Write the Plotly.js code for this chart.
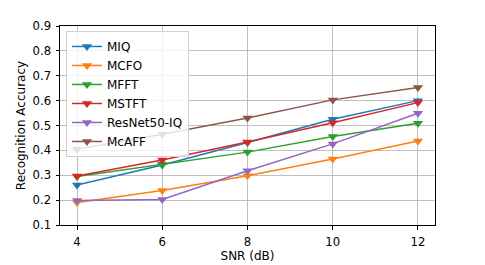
<!DOCTYPE html>
<html><head><meta charset="utf-8">
<script src="https://cdn.plot.ly/plotly-3.0.1.min.js"></script>
<style>html,body{margin:0;padding:0;background:#fff}#c{width:485px;height:265px}</style>
</head><body><div id="c"></div>
<script>
const snr = [4, 6, 8, 10, 12];
const seriesNames = ["MIQ", "MCFO", "MFFT", "MSTFT", "ResNet50-IQ", "McAFF"];
const miq = [0.261, 0.341, 0.432, 0.525, 0.600];
const mcfo = [0.190, 0.239, 0.298, 0.365, 0.438];
const mfft = [0.295, 0.344, 0.393, 0.456, 0.509];
const mstft = [0.297, 0.361, 0.434, 0.511, 0.592];
const resnet = [0.198, 0.203, 0.318, 0.426, 0.549];
const mcaff = [0.405, 0.465, 0.530, 0.603, 0.653];
const yTicks = [0.1, 0.2, 0.3, 0.4, 0.5, 0.6, 0.7, 0.8, 0.9];
const xTicks = [4, 6, 8, 10, 12];

const colors = ["#1f77b4", "#ff7f0e", "#2ca02c", "#d62728", "#9467bd", "#8c564b"];
const values = [miq, mcfo, mfft, mstft, resnet, mcaff];
const font = {family: "DejaVu Sans", size: 11.7, color: "#000"};
const lfont = {family: "DejaVu Sans", size: 12, color: "#000"};
const tfont = {family: "DejaVu Sans", size: 12, color: "#000"};

const traces = values.map((v, i) => ({
  x: snr, y: v, name: seriesNames[i], type: "scatter", mode: "lines+markers",
  line: {color: colors[i], width: 1.5},
  marker: {symbol: "triangle-down", size: 9, color: colors[i]}
}));

const layout = {
  width: 485, height: 265,
  margin: {l: 60, r: 50, t: 26, b: 40},
  paper_bgcolor: "#fff", plot_bgcolor: "#fff",
  font: font,
  showlegend: true,
  legend: {x: 0.016, y: 0.975, xanchor: "left", yanchor: "top",
    bgcolor: "rgba(255,255,255,0.8)", bordercolor: "#d0d0d0", borderwidth: 1,
    font: lfont, tracegroupgap: 0, itemwidth: 30},
  xaxis: {range: [3.6, 12.4], tickvals: xTicks, ticktext: xTicks.map(String),
    showgrid: true, gridcolor: "#b0b0b0", gridwidth: 0.8,
    showline: true, linecolor: "#000", linewidth: 1, mirror: true,
    ticks: "outside", ticklen: 3.5, tickcolor: "#000", zeroline: false,
    ticklabelstandoff: 2, tickfont: font,
    title: {text: "SNR (dB)", font: tfont, standoff: 3}},
  yaxis: {range: [0.1, 0.9], tickvals: yTicks, ticktext: yTicks.map(v => v.toFixed(1)),
    showgrid: true, gridcolor: "#b0b0b0", gridwidth: 0.8,
    showline: true, linecolor: "#000", linewidth: 1, mirror: true,
    ticks: "outside", ticklen: 3.5, tickcolor: "#000", zeroline: false,
    ticklabelstandoff: 2, tickfont: font,
    title: {text: "Recognition Accuracy", font: tfont, standoff: 4}}
};
Plotly.newPlot("c", traces, layout, {staticPlot: true, displayModeBar: false});
</script></body></html>
